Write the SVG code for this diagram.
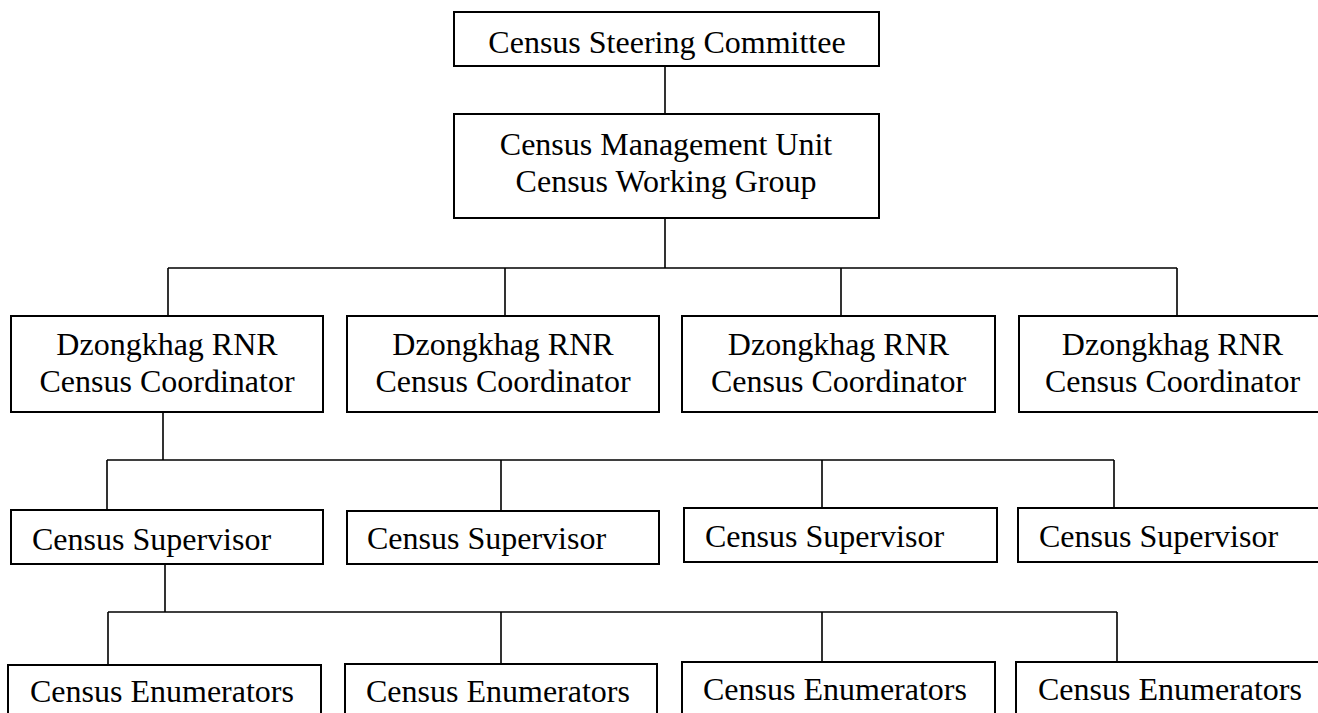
<svg xmlns="http://www.w3.org/2000/svg" width="1318" height="713" viewBox="0 0 1318 713">
<defs>
<style>
.box{fill:#fff;stroke:#000;stroke-width:2}
.ln{stroke:#000;stroke-width:1.6;fill:none}
text{font-family:"Liberation Serif","Times New Roman",serif;font-size:32px;fill:#000}
.c{text-anchor:middle}
</style>
<clipPath id="clipTop"><rect x="455" y="13" width="424" height="51"/></clipPath>
</defs>
<rect width="1318" height="713" fill="#fff"/>
<g id="connectors">
<path class="ln" d="M665 66V114M665 218V268M168 268H1177M168 268V316M505 268V316M841 268V316M1177 268V316"/>
<path class="ln" d="M163 412V460M107 460H1114M107 460V510M501 460V511M822 460V508M1114 460V508"/>
<path class="ln" d="M165 564V612M108 612H1117M108 612V665M501 612V664M822 612V662M1117 612V662"/>
</g>
<g id="steering">
<rect class="box" x="454" y="12" width="425" height="54"/>
<text class="c" x="667" y="53" clip-path="url(#clipTop)">Census Steering Committee</text>
</g>
<g id="management">
<rect class="box" x="454" y="114" width="425" height="104"/>
<text class="c" x="666" y="155">Census Management Unit</text>
<text class="c" x="666" y="192">Census Working Group</text>
</g>
<g id="coord1">
<rect class="box" x="11" y="316" width="312" height="96"/>
<text class="c" x="167" y="355">Dzongkhag RNR</text>
<text class="c" x="167" y="392">Census Coordinator</text>
</g>
<g id="coord2">
<rect class="box" x="347" y="316" width="312" height="96"/>
<text class="c" x="503" y="355">Dzongkhag RNR</text>
<text class="c" x="503" y="392">Census Coordinator</text>
</g>
<g id="coord3">
<rect class="box" x="682" y="316" width="313" height="96"/>
<text class="c" x="838.5" y="355">Dzongkhag RNR</text>
<text class="c" x="838.5" y="392">Census Coordinator</text>
</g>
<g id="coord4">
<rect class="box" x="1019" y="316" width="310" height="96"/>
<text class="c" x="1172.5" y="355">Dzongkhag RNR</text>
<text class="c" x="1172.5" y="392">Census Coordinator</text>
</g>
<g id="sup1">
<rect class="box" x="11" y="510" width="312" height="54"/>
<text x="32" y="550">Census Supervisor</text>
</g>
<g id="sup2">
<rect class="box" x="347" y="511" width="312" height="53"/>
<text x="367" y="549">Census Supervisor</text>
</g>
<g id="sup3">
<rect class="box" x="684" y="508" width="313" height="54"/>
<text x="705" y="547">Census Supervisor</text>
</g>
<g id="sup4">
<rect class="box" x="1018" y="508" width="312" height="54"/>
<text x="1039" y="547">Census Supervisor</text>
</g>
<g id="enum1">
<rect class="box" x="8" y="665" width="313" height="60"/>
<text x="30" y="702">Census Enumerators</text>
</g>
<g id="enum2">
<rect class="box" x="345" y="664" width="312" height="60"/>
<text x="366" y="702">Census Enumerators</text>
</g>
<g id="enum3">
<rect class="box" x="682" y="662" width="313" height="60"/>
<text x="703" y="700">Census Enumerators</text>
</g>
<g id="enum4">
<rect class="box" x="1016" y="662" width="313" height="60"/>
<text x="1038" y="700">Census Enumerators</text>
</g>
</svg>
